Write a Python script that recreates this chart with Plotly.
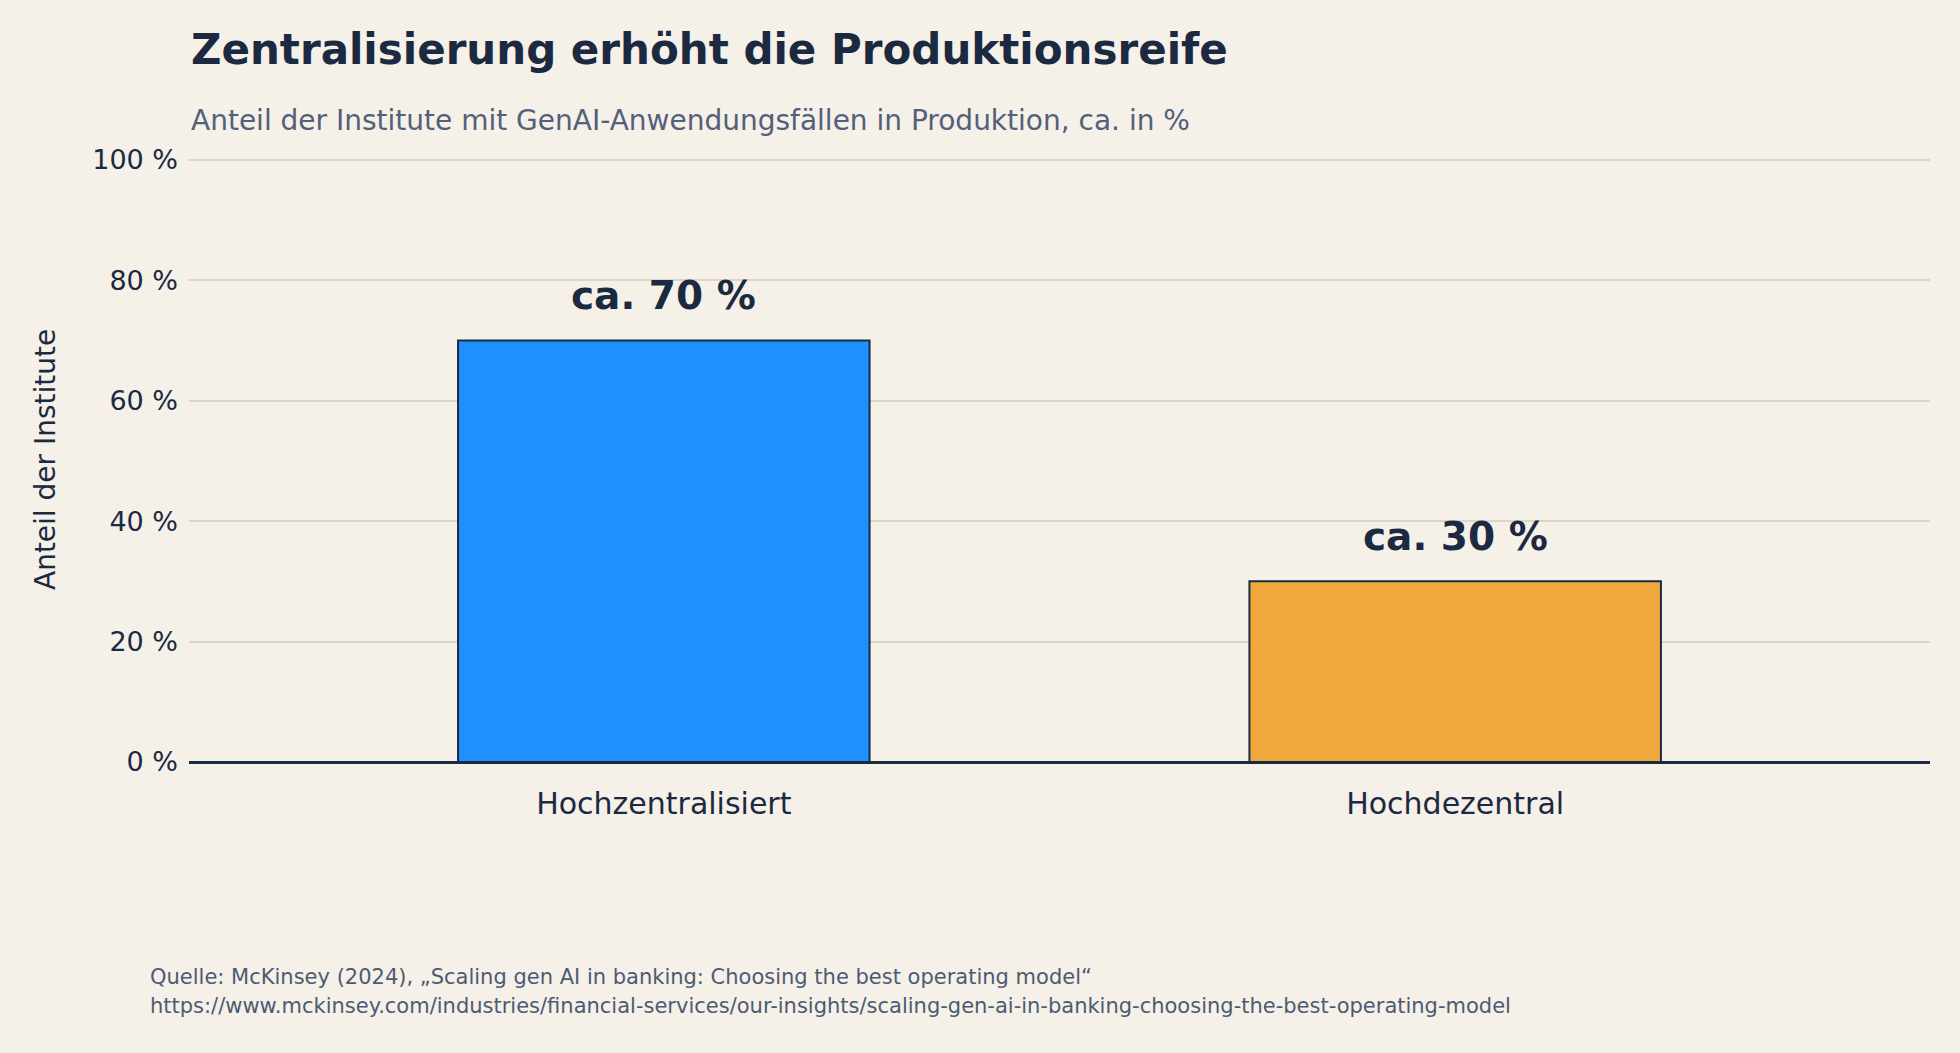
import plotly.graph_objects as go

categories = ["Hochzentralisiert", "Hochdezentral"]
values = [70, 30]
bar_labels = ["ca. 70 %", "ca. 30 %"]
bar_colors = ["#1e90ff", "#f0a83c"]
y_ticks = [0, 20, 40, 60, 80, 100]
y_tick_text = [f"{v} %" for v in y_ticks]

title = "Zentralisierung erhöht die Produktionsreife"
subtitle = "Anteil der Institute mit GenAI-Anwendungsfällen in Produktion, ca. in %"
source_1 = "Quelle: McKinsey (2024), „Scaling gen AI in banking: Choosing the best operating model“"
source_2 = "https://www.mckinsey.com/industries/financial-services/our-insights/scaling-gen-ai-in-banking-choosing-the-best-operating-model"

navy = "#1b2a41"
bg = "#f5f0e8"
font = "DejaVu Sans"

fig = go.Figure()
fig.add_trace(go.Bar(
    x=categories,
    y=values,
    width=0.52,
    marker=dict(color=bar_colors, line=dict(color=navy, width=2)),
    hoverinfo="skip",
))

for cat, val, lab in zip(categories, values, bar_labels):
    fig.add_annotation(x=cat, y=val, text="<b>" + lab + "</b>", showarrow=False,
                       yanchor="bottom", yshift=20,
                       font=dict(family=font, size=39, color=navy))

# titles and source as paper annotations
fig.add_annotation(text="<b>" + title + "</b>", xref="paper", yref="paper", x=0, y=1.179,
                   xanchor="left", yanchor="middle", showarrow=False,
                   font=dict(family=font, size=42, color=navy))
fig.add_annotation(text=subtitle, xref="paper", yref="paper", x=0, y=1.062,
                   xanchor="left", yanchor="middle", showarrow=False,
                   font=dict(family=font, size=28, color="#52607a"))
fig.add_annotation(text="Anteil der Institute", xref="paper", yref="paper", x=-0.0827, y=0.5,
                   xanchor="center", yanchor="middle", textangle=-90, showarrow=False,
                   font=dict(family=font, size=28, color=navy))
fig.add_annotation(text=source_1, xref="paper", yref="paper", x=-0.0236, y=-0.356,
                   xanchor="left", yanchor="middle", showarrow=False,
                   font=dict(family=font, size=21, color="#4d5b72"))
fig.add_annotation(text=source_2, xref="paper", yref="paper", x=-0.0236, y=-0.404,
                   xanchor="left", yanchor="middle", showarrow=False,
                   font=dict(family=font, size=21, color="#4d5b72"))

fig.update_layout(
    width=1960, height=1053,
    margin=dict(l=189, r=30, t=158, b=291),
    paper_bgcolor=bg, plot_bgcolor=bg,
    showlegend=False,
    font=dict(family=font, color=navy),
)
fig.update_xaxes(range=[-0.6, 1.6], showgrid=False, showline=False, zeroline=False,
                 ticks="", ticklabelstandoff=21,
                 tickfont=dict(family=font, size=30, color=navy))
fig.update_yaxes(range=[0, 100.3], tickvals=y_ticks, ticktext=y_tick_text,
                 showgrid=True, gridcolor="#dcd6c8", gridwidth=1.5,
                 zeroline=True, zerolinecolor=navy, zerolinewidth=2.5,
                 showline=False, ticks="", ticklabelstandoff=10,
                 tickfont=dict(family=font, size=27, color=navy))

fig.write_html("out.html", config={"displayModeBar": False},
               post_script="document.body.style.margin='0';")
